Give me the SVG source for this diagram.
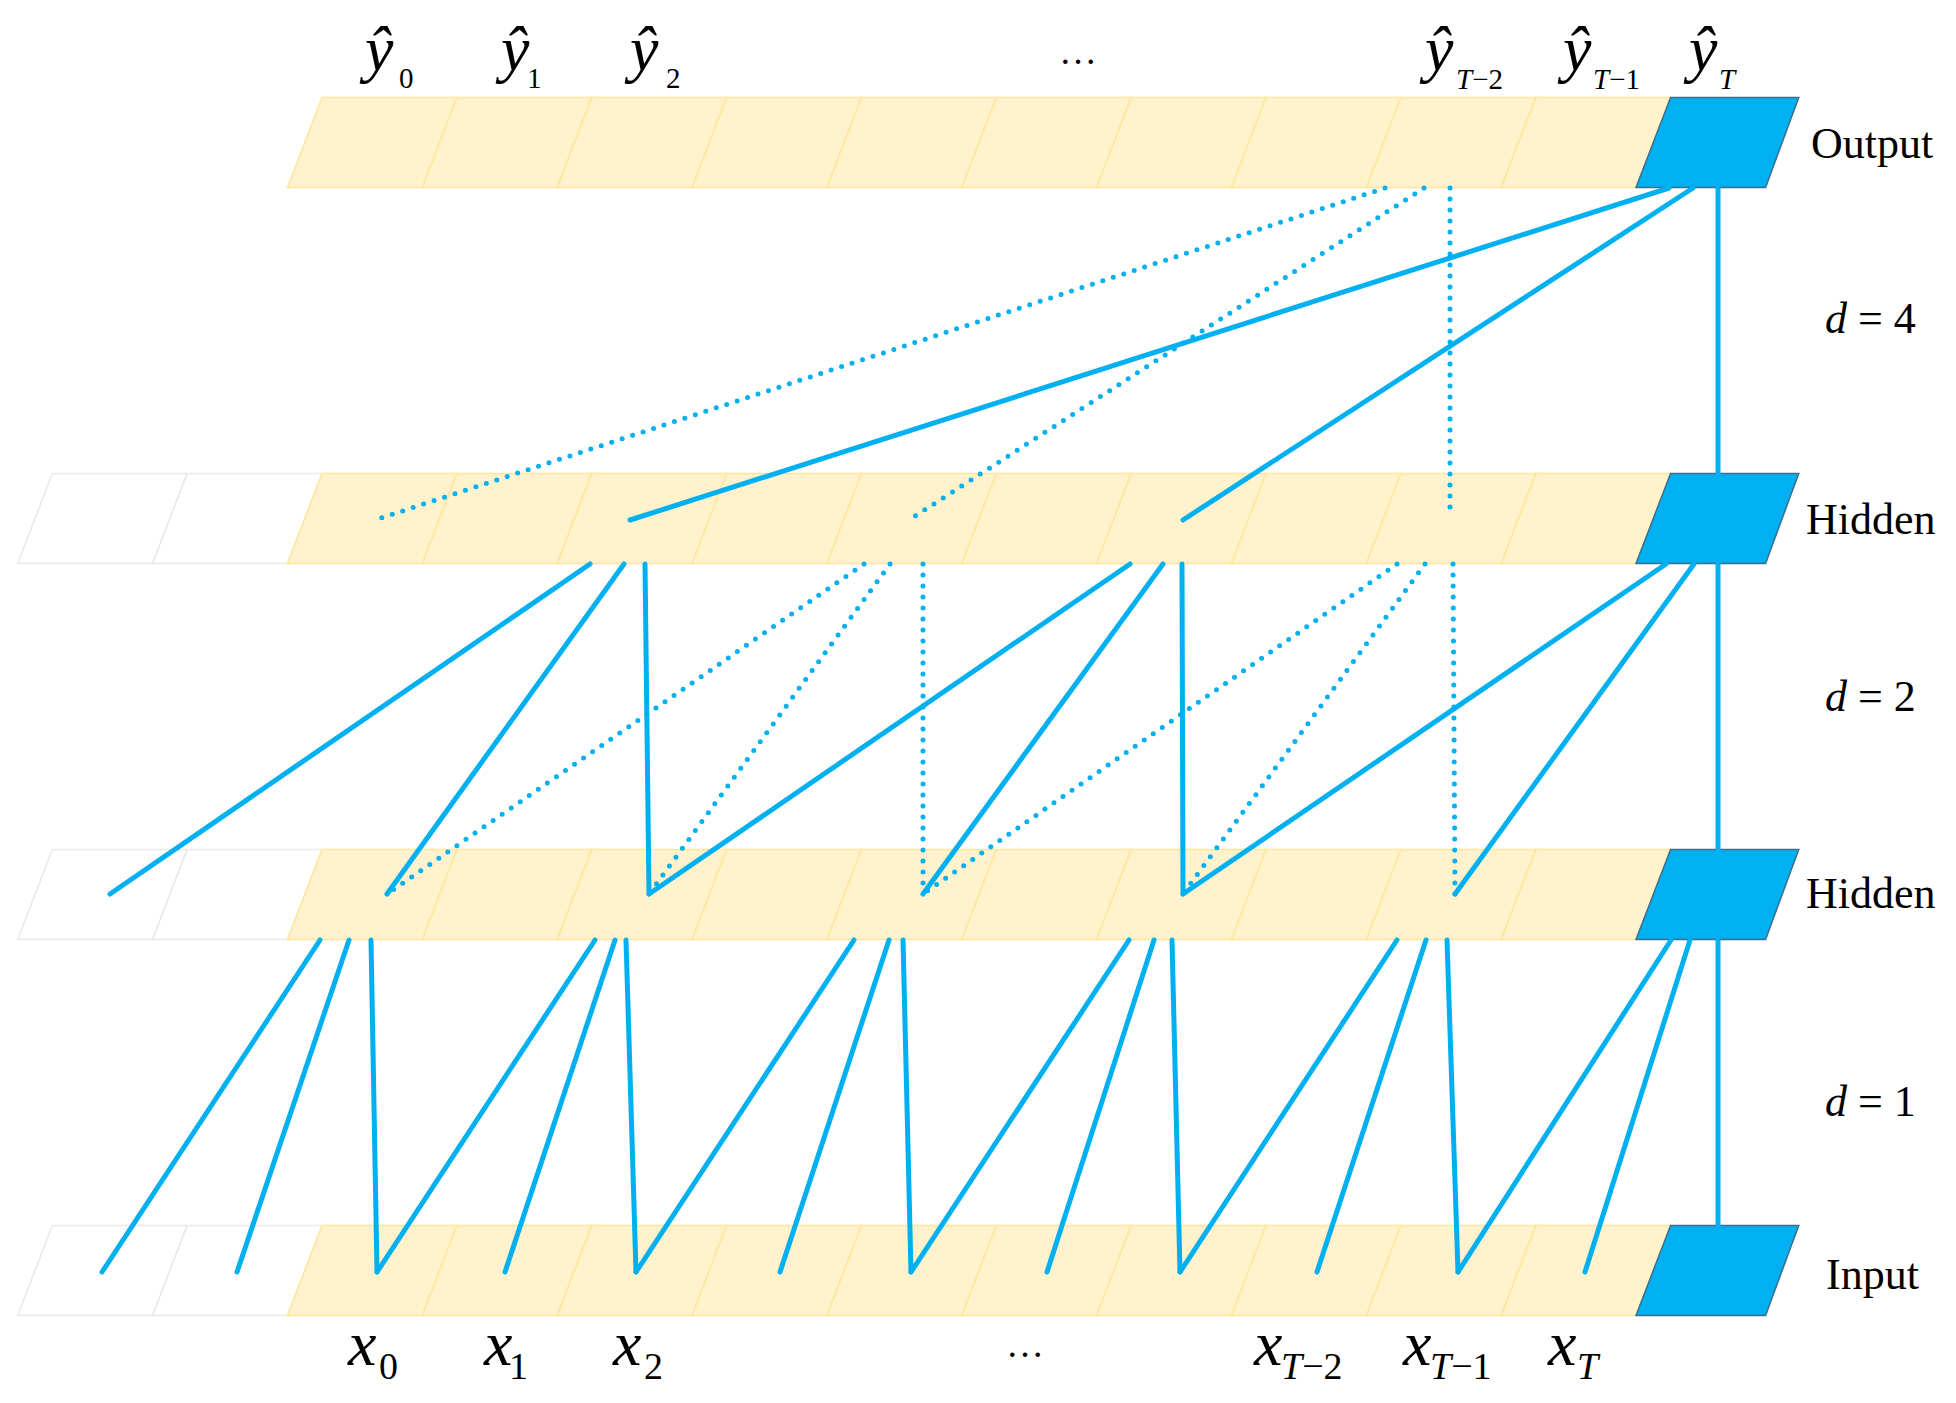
<svg xmlns="http://www.w3.org/2000/svg" xmlns:xlink="http://www.w3.org/1999/xlink" width="1956" height="1403" viewBox="0 0 1956 1403">
<style>
.beige{fill:#FFF2CC;stroke:#FFE699;stroke-width:1.5}
.white{fill:#FFFFFF;stroke:#E9E9E9;stroke-width:1.5}
.blue{fill:#00B0F0;stroke:#3B6E8F;stroke-width:1.5}
.s{stroke:#00B0F0;stroke-width:5;stroke-linecap:round;fill:none}
.d{stroke:#00B0F0;stroke-width:5;stroke-linecap:round;stroke-dasharray:0 11;fill:none}
.lbl{font-family:"Liberation Serif","Times New Roman",serif;font-size:44px;fill:#000}
.mv{font-family:"Liberation Serif","Times New Roman",serif;font-style:italic;font-size:64px;fill:#000}
.xv{font-family:"Liberation Serif","Times New Roman",serif;font-style:italic;font-size:64px;fill:#000}
.ys{font-size:29px}
.xs{font-size:38px}
.up{font-style:normal}
.dots{font-family:"Liberation Serif","Times New Roman",serif;font-size:38px;fill:#000}
</style>
<defs>
<polygon id="cell" points="0,0 134.86,0 100.36,90 -34.5,90"/>
<polygon id="bcell" points="0,0 128.15,0 95,90 -34.6,90"/>
</defs>

<g id="output-layer">
<use href="#cell" x="322" y="97.5" class="beige"/>
<use href="#cell" x="456.86" y="97.5" class="beige"/>
<use href="#cell" x="591.72" y="97.5" class="beige"/>
<use href="#cell" x="726.58" y="97.5" class="beige"/>
<use href="#cell" x="861.44" y="97.5" class="beige"/>
<use href="#cell" x="996.3" y="97.5" class="beige"/>
<use href="#cell" x="1131.16" y="97.5" class="beige"/>
<use href="#cell" x="1266.02" y="97.5" class="beige"/>
<use href="#cell" x="1400.88" y="97.5" class="beige"/>
<use href="#cell" x="1535.74" y="97.5" class="beige"/>
<use href="#bcell" x="1670.6" y="97.5" class="blue"/>
<text class="lbl" x="1811" y="158">Output</text>
</g>

<g id="hidden-layer-1">
<use href="#cell" x="52.28" y="473.5" class="white"/>
<use href="#cell" x="187.14" y="473.5" class="white"/>
<use href="#cell" x="322" y="473.5" class="beige"/>
<use href="#cell" x="456.86" y="473.5" class="beige"/>
<use href="#cell" x="591.72" y="473.5" class="beige"/>
<use href="#cell" x="726.58" y="473.5" class="beige"/>
<use href="#cell" x="861.44" y="473.5" class="beige"/>
<use href="#cell" x="996.3" y="473.5" class="beige"/>
<use href="#cell" x="1131.16" y="473.5" class="beige"/>
<use href="#cell" x="1266.02" y="473.5" class="beige"/>
<use href="#cell" x="1400.88" y="473.5" class="beige"/>
<use href="#cell" x="1535.74" y="473.5" class="beige"/>
<use href="#bcell" x="1670.6" y="473.5" class="blue"/>
<text class="lbl" x="1806" y="534">Hidden</text>
</g>

<g id="hidden-layer-2">
<use href="#cell" x="52.28" y="849.5" class="white"/>
<use href="#cell" x="187.14" y="849.5" class="white"/>
<use href="#cell" x="322" y="849.5" class="beige"/>
<use href="#cell" x="456.86" y="849.5" class="beige"/>
<use href="#cell" x="591.72" y="849.5" class="beige"/>
<use href="#cell" x="726.58" y="849.5" class="beige"/>
<use href="#cell" x="861.44" y="849.5" class="beige"/>
<use href="#cell" x="996.3" y="849.5" class="beige"/>
<use href="#cell" x="1131.16" y="849.5" class="beige"/>
<use href="#cell" x="1266.02" y="849.5" class="beige"/>
<use href="#cell" x="1400.88" y="849.5" class="beige"/>
<use href="#cell" x="1535.74" y="849.5" class="beige"/>
<use href="#bcell" x="1670.6" y="849.5" class="blue"/>
<text class="lbl" x="1806" y="908">Hidden</text>
</g>

<g id="input-layer">
<use href="#cell" x="52.28" y="1225.5" class="white"/>
<use href="#cell" x="187.14" y="1225.5" class="white"/>
<use href="#cell" x="322" y="1225.5" class="beige"/>
<use href="#cell" x="456.86" y="1225.5" class="beige"/>
<use href="#cell" x="591.72" y="1225.5" class="beige"/>
<use href="#cell" x="726.58" y="1225.5" class="beige"/>
<use href="#cell" x="861.44" y="1225.5" class="beige"/>
<use href="#cell" x="996.3" y="1225.5" class="beige"/>
<use href="#cell" x="1131.16" y="1225.5" class="beige"/>
<use href="#cell" x="1266.02" y="1225.5" class="beige"/>
<use href="#cell" x="1400.88" y="1225.5" class="beige"/>
<use href="#cell" x="1535.74" y="1225.5" class="beige"/>
<use href="#bcell" x="1670.6" y="1225.5" class="blue"/>
<text class="lbl" x="1826" y="1289">Input</text>
</g>

<g id="connectors">
<!-- output -> hidden 1 (d = 4) -->
<line class="s" x1="1669" y1="188" x2="630" y2="520"/>
<line class="s" x1="1693" y1="188" x2="1183" y2="520"/>
<line class="s" x1="1718" y1="188" x2="1718" y2="473.5"/>
<line class="d" x1="1385" y1="188" x2="375" y2="520"/>
<line class="d" x1="1424" y1="188" x2="909" y2="520"/>
<line class="d" x1="1450" y1="188" x2="1450" y2="516"/>
<!-- hidden 1 -> hidden 2 (d = 2) -->
<line class="s" x1="590" y1="564" x2="110" y2="894"/>
<line class="s" x1="624" y1="564" x2="387" y2="894"/>
<line class="s" x1="645" y1="564" x2="649" y2="894"/>
<line class="s" x1="1130" y1="564" x2="649" y2="894"/>
<line class="s" x1="1163" y1="564" x2="923" y2="894"/>
<line class="s" x1="1182" y1="564" x2="1183" y2="894"/>
<line class="s" x1="1666" y1="564" x2="1183" y2="894"/>
<line class="s" x1="1694" y1="564" x2="1455" y2="894"/>
<line class="s" x1="1718" y1="564" x2="1718" y2="849.5"/>
<line class="d" x1="864" y1="564" x2="387" y2="894"/>
<line class="d" x1="890" y1="564" x2="649" y2="894"/>
<line class="d" x1="923" y1="564" x2="923" y2="894"/>
<line class="d" x1="1397" y1="564" x2="923" y2="894"/>
<line class="d" x1="1425" y1="564" x2="1183" y2="894"/>
<line class="d" x1="1453" y1="564" x2="1455" y2="894"/>
<!-- hidden 2 -> input (d = 1) -->
<line class="s" x1="320" y1="940" x2="102" y2="1272"/>
<line class="s" x1="349" y1="940" x2="237" y2="1272"/>
<line class="s" x1="371" y1="940" x2="377" y2="1272"/>
<line class="s" x1="595" y1="940" x2="377" y2="1272"/>
<line class="s" x1="615" y1="940" x2="505" y2="1272"/>
<line class="s" x1="626" y1="940" x2="636" y2="1272"/>
<line class="s" x1="854" y1="940" x2="636" y2="1272"/>
<line class="s" x1="889" y1="940" x2="780" y2="1272"/>
<line class="s" x1="903" y1="940" x2="911" y2="1272"/>
<line class="s" x1="1129" y1="940" x2="911" y2="1272"/>
<line class="s" x1="1154" y1="940" x2="1047" y2="1272"/>
<line class="s" x1="1172" y1="940" x2="1180" y2="1272"/>
<line class="s" x1="1397" y1="940" x2="1180" y2="1272"/>
<line class="s" x1="1426" y1="940" x2="1317" y2="1272"/>
<line class="s" x1="1447" y1="940" x2="1458" y2="1272"/>
<line class="s" x1="1671" y1="940" x2="1458" y2="1272"/>
<line class="s" x1="1690" y1="940" x2="1585" y2="1272"/>
<line class="s" x1="1718" y1="940" x2="1718" y2="1225.5"/>
</g>

<g id="dilation-labels">
<text class="lbl" x="1825" y="333"><tspan font-style="italic">d</tspan> = 4</text>
<text class="lbl" x="1825" y="711"><tspan font-style="italic">d</tspan> = 2</text>
<text class="lbl" x="1825" y="1116"><tspan font-style="italic">d</tspan> = 1</text>
</g>

<g id="output-labels">
<text class="mv" x="365" y="70">ŷ<tspan class="ys up" x="399" y="88">0</tspan></text>
<text class="mv" x="501" y="70">ŷ<tspan class="ys up" x="527" y="88">1</tspan></text>
<text class="mv" x="630" y="70">ŷ<tspan class="ys up" x="666" y="88">2</tspan></text>
<text class="dots" x="1059" y="64">…</text>
<text class="mv" x="1425" y="70">ŷ<tspan class="ys" x="1456" y="89">T</tspan><tspan class="ys up">−2</tspan></text>
<text class="mv" x="1563" y="70">ŷ<tspan class="ys" x="1593" y="89">T</tspan><tspan class="ys up">−1</tspan></text>
<text class="mv" x="1689" y="70">ŷ<tspan class="ys" x="1719" y="89">T</tspan></text>
</g>

<g id="input-labels">
<text class="xv" x="348" y="1365">x<tspan class="xs up" x="379" y="1379">0</tspan></text>
<text class="xv" x="484" y="1365">x<tspan class="xs up" x="509" y="1379">1</tspan></text>
<text class="xv" x="613" y="1365">x<tspan class="xs up" x="644" y="1379">2</tspan></text>
<text class="dots" x="1006" y="1357">…</text>
<text class="xv" x="1254" y="1365">x<tspan class="xs" x="1281" y="1379">T</tspan><tspan class="xs up">−2</tspan></text>
<text class="xv" x="1403" y="1365">x<tspan class="xs" x="1430" y="1379">T</tspan><tspan class="xs up">−1</tspan></text>
<text class="xv" x="1548" y="1365">x<tspan class="xs" x="1577" y="1379">T</tspan></text>
</g>
</svg>
